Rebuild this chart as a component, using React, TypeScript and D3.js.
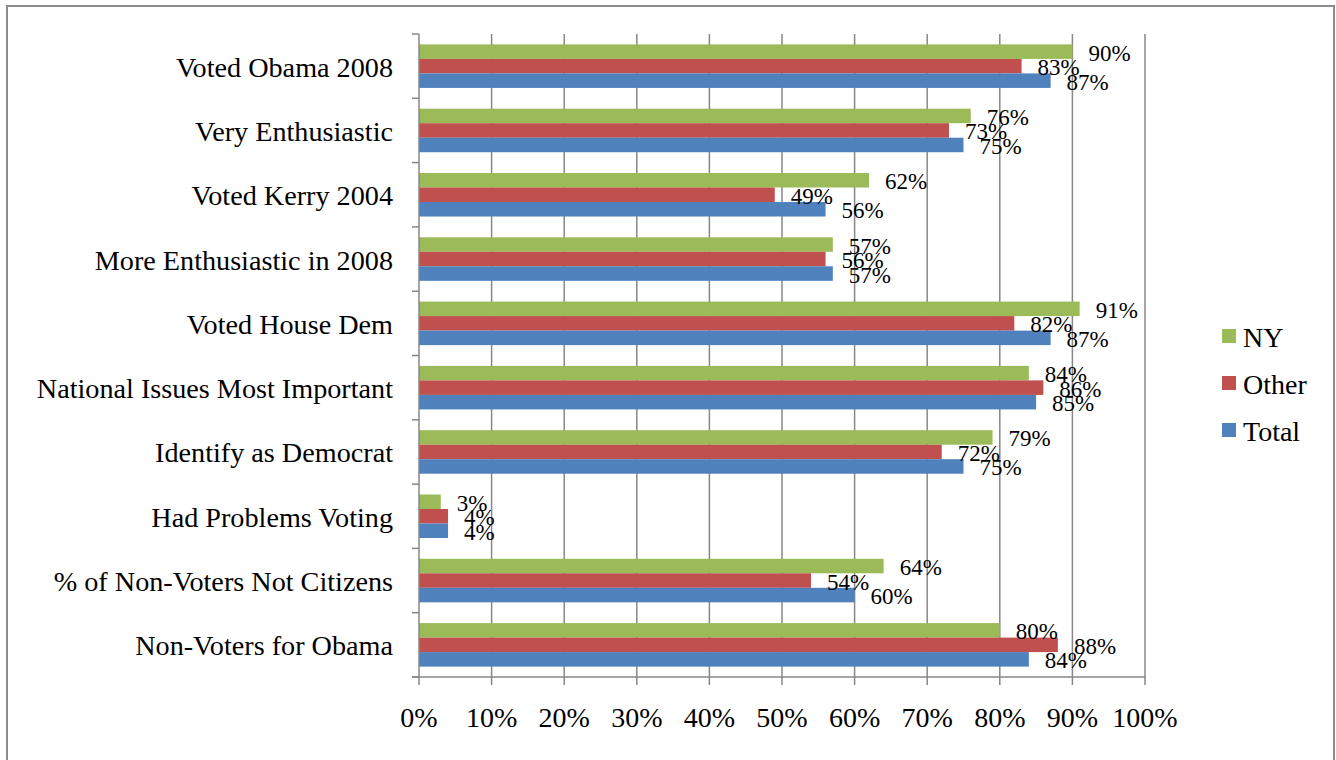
import React, { useEffect, useRef } from "react";
import * as d3 from "d3";

const categories = [
  "Voted Obama 2008",
  "Very Enthusiastic",
  "Voted Kerry 2004",
  "More Enthusiastic in 2008",
  "Voted House Dem",
  "National Issues Most Important",
  "Identify as Democrat",
  "Had Problems Voting",
  "% of Non-Voters Not Citizens",
  "Non-Voters for Obama",
];

const nyValues = [90, 76, 62, 57, 91, 84, 79, 3, 64, 80];
const otherValues = [83, 73, 49, 56, 82, 86, 72, 4, 54, 88];
const totalValues = [87, 75, 56, 57, 87, 85, 75, 4, 60, 84];

const seriesNames = ["NY", "Other", "Total"];
const seriesColors = ["#9bbb59", "#c0504d", "#4f81bd"];
const xTicks = [0, 10, 20, 30, 40, 50, 60, 70, 80, 90, 100];

const FONT = "'Liberation Serif', 'Times New Roman', serif";

const App: React.FC = () => {
  const svgRef = useRef<SVGSVGElement>(null);

  useEffect(() => {
    if (!svgRef.current) return;
    const svg = d3.select(svgRef.current);
    svg.selectAll("*").remove();

    const width = 1336;
    const plot = { left: 419, right: 1145, top: 34, bottom: 677 };
    const gridColor = "#878787";

    // outer frame
    svg
      .append("rect")
      .attr("x", 7)
      .attr("y", 6)
      .attr("width", width - 9)
      .attr("height", 800)
      .attr("fill", "#fff")
      .attr("stroke", "#8c8c8c")
      .attr("stroke-width", 2);

    const x = d3.scaleLinear().domain([0, 100]).range([plot.left, plot.right]);
    const y = d3
      .scaleBand<string>()
      .domain(categories)
      .range([plot.top, plot.bottom])
      .paddingInner(0.323)
      .paddingOuter(0.1615);
    const sub = d3
      .scaleBand<string>()
      .domain(seriesNames)
      .range([0, y.bandwidth()]);

    // vertical gridlines
    svg
      .append("g")
      .selectAll("line")
      .data(xTicks.slice(1))
      .join("line")
      .attr("x1", (d) => x(d))
      .attr("x2", (d) => x(d))
      .attr("y1", plot.top)
      .attr("y2", plot.bottom)
      .attr("stroke", gridColor)
      .attr("stroke-width", 1.5);

    // bars
    const series = [nyValues, otherValues, totalValues];
    series.forEach((vals, si) => {
      const g = svg.append("g");
      g.selectAll("rect")
        .data(vals)
        .join("rect")
        .attr("x", x(0))
        .attr("y", (_, i) => (y(categories[i]) as number) + (sub(seriesNames[si]) as number))
        .attr("width", (d) => x(d) - x(0))
        .attr("height", sub.bandwidth())
        .attr("fill", seriesColors[si]);
    });

    // data labels
    series.forEach((vals, si) => {
      svg
        .append("g")
        .selectAll("text")
        .data(vals)
        .join("text")
        .attr("x", (d) => x(d) + 16)
        .attr(
          "y",
          (_, i) =>
            (y(categories[i]) as number) +
            (sub(seriesNames[si]) as number) +
            sub.bandwidth() / 2 +
            1.5
        )
        .attr("dominant-baseline", "central")
        .attr("font-family", FONT)
        .attr("font-size", 23)
        .attr("fill", "#000")
        .text((d) => `${d}%`);
    });

    // y axis line + ticks
    svg
      .append("line")
      .attr("x1", plot.left)
      .attr("x2", plot.left)
      .attr("y1", plot.top)
      .attr("y2", plot.bottom)
      .attr("stroke", gridColor)
      .attr("stroke-width", 1.5);
    const yTickPos = d3.range(categories.length + 1).map((i) => plot.top + (i * (plot.bottom - plot.top)) / categories.length);
    svg
      .append("g")
      .selectAll("line")
      .data(yTickPos)
      .join("line")
      .attr("x1", plot.left - 7)
      .attr("x2", plot.left)
      .attr("y1", (d) => d)
      .attr("y2", (d) => d)
      .attr("stroke", gridColor)
      .attr("stroke-width", 1.5);

    // x axis line + ticks
    svg
      .append("line")
      .attr("x1", plot.left - 7)
      .attr("x2", plot.right)
      .attr("y1", plot.bottom)
      .attr("y2", plot.bottom)
      .attr("stroke", gridColor)
      .attr("stroke-width", 1.5);
    svg
      .append("g")
      .selectAll("line")
      .data(xTicks)
      .join("line")
      .attr("x1", (d) => x(d))
      .attr("x2", (d) => x(d))
      .attr("y1", plot.bottom)
      .attr("y2", plot.bottom + 8)
      .attr("stroke", gridColor)
      .attr("stroke-width", 1.5);

    // x tick labels
    svg
      .append("g")
      .selectAll("text")
      .data(xTicks)
      .join("text")
      .attr("x", (d) => x(d))
      .attr("y", 727)
      .attr("text-anchor", "middle")
      .attr("font-family", FONT)
      .attr("font-size", 28)
      .text((d) => `${d}%`);

    // category labels
    svg
      .append("g")
      .selectAll("text")
      .data(categories)
      .join("text")
      .attr("x", 393)
      .attr("y", (d) => (y(d) as number) + y.bandwidth() / 2 + 1)
      .attr("text-anchor", "end")
      .attr("dominant-baseline", "central")
      .attr("font-family", FONT)
      .attr("font-size", 28.2)
      .text((d) => d);

    // legend
    const legend = svg
      .append("g")
      .selectAll("g")
      .data(seriesNames)
      .join("g")
      .attr("transform", (_, i) => `translate(1222, ${336 + i * 47})`);
    legend
      .append("rect")
      .attr("x", 0)
      .attr("y", -7)
      .attr("width", 14)
      .attr("height", 14)
      .attr("fill", (_, i) => seriesColors[i]);
    legend
      .append("text")
      .attr("x", 21)
      .attr("y", 1)
      .attr("dominant-baseline", "central")
      .attr("font-family", FONT)
      .attr("font-size", 28)
      .text((d) => d);
  }, []);

  return (
    <svg
      ref={svgRef}
      width={1336}
      height={760}
      style={{ position: "absolute", left: 0, top: 0, background: "#fff" }}
    />
  );
};

export default App;
